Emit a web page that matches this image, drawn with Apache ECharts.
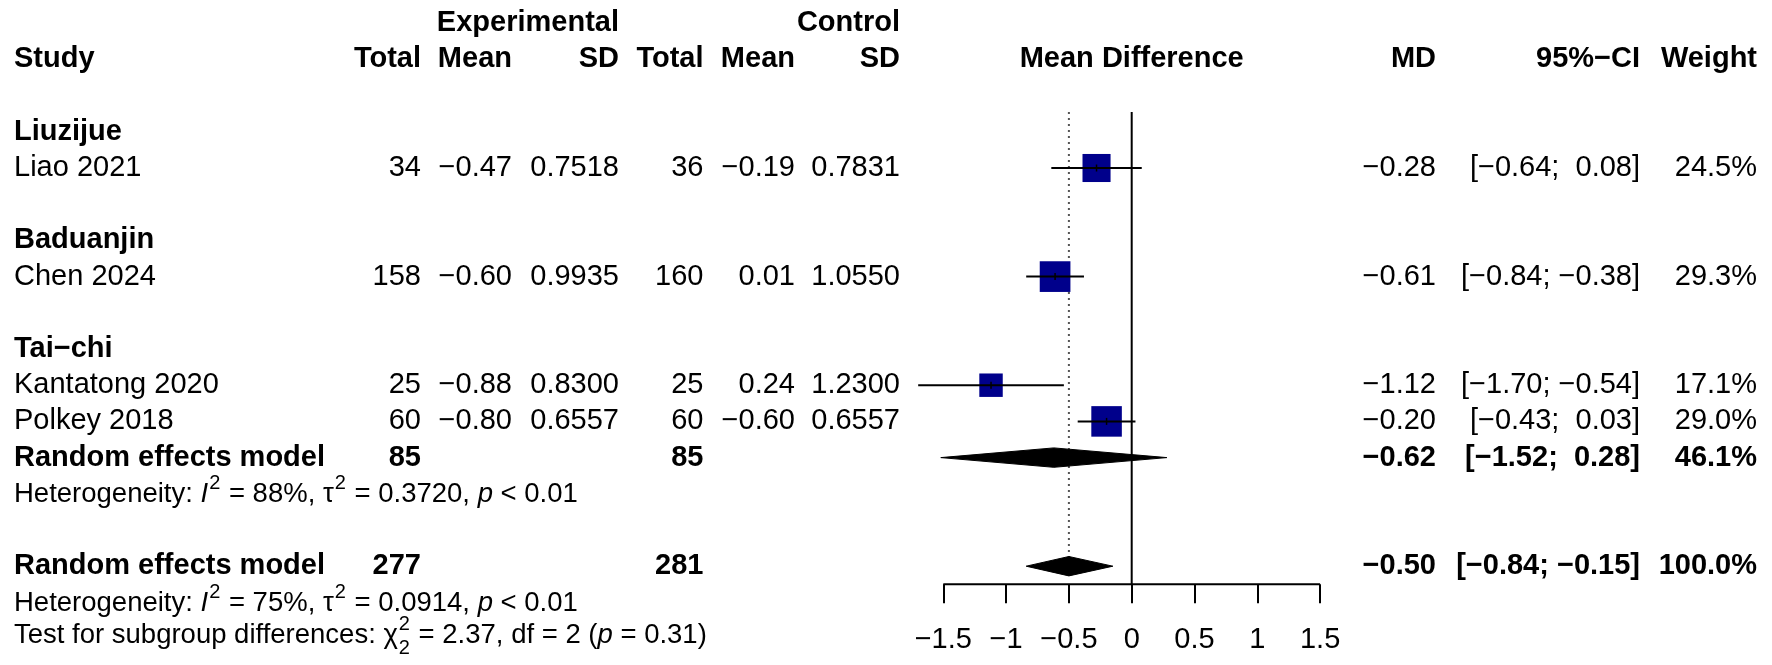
<!DOCTYPE html>
<html><head><meta charset="utf-8">
<script src="https://cdn.jsdelivr.net/npm/echarts@6/dist/echarts.min.js"></script>
<style>html,body{margin:0;padding:0;background:#fff}#c{width:1772px;height:665px}</style>
</head><body><div id="c"></div>
<script>
// ---------------- DATA ----------------
const subgroups = ['Liuzijue', 'Baduanjin', 'Tai\u2212chi'];
const studies = ['Liao 2021', 'Chen 2024', 'Kantatong 2020', 'Polkey 2018'];
const expTotal = [34, 158, 25, 60];
const expMean = [-0.47, -0.60, -0.88, -0.80];
const expSD = [0.7518, 0.9935, 0.8300, 0.6557];
const ctrlTotal = [36, 160, 25, 60];
const ctrlMean = [-0.19, 0.01, 0.24, -0.60];
const ctrlSD = [0.7831, 1.0550, 1.2300, 0.6557];
const md = [-0.28, -0.61, -1.12, -0.20];
const ciLow = [-0.64, -0.84, -1.70, -0.43];
const ciHigh = [0.08, -0.38, -0.54, 0.03];
const weight = [24.5, 29.3, 17.1, 29.0];

const pooledLabels = ['Random effects model', 'Random effects model'];
const pooledExpTotal = [85, 277];
const pooledCtrlTotal = [85, 281];
const pooledMD = [-0.62, -0.50];
const pooledLow = [-1.52, -0.84];
const pooledHigh = [0.28, -0.15];
const pooledWeight = [46.1, 100.0];
const hetI2 = [88, 75];
const hetTau2 = [0.3720, 0.0914];
const hetP = ['< 0.01', '< 0.01'];
const testChi2 = 2.37, testDf = 2, testP = '0.31';
const xTicks = [-1.5, -1, -0.5, 0, 0.5, 1, 1.5];
const refValue = 0;

// ---------------- LAYOUT ----------------
const FONT = "'Liberation Sans', Arial, Helvetica, sans-serif";
const FS = 29, FS_HET = 27.5, FS_SUP = 20;
const groupRow = [2, 5, 8];
const studyRow = [3, 6, 9, 10];
const pooledRow = [11, 14];
const hetRow = [12, 15];
const testRow = 16;
const ROW_MIN = -1, ROW_MAX = 14.5;
const COL = { study: 14, eT: 421, eM: 512, eS: 619, cT: 703.5, cM: 795, cS: 900, md: 1436, ci: 1640, w: 1757 };

const minus = s => String(s).replace(/-/g, '\u2212');
const f2 = v => minus(v.toFixed(2));
const ciText = (lo, hi) => '[' + (lo >= 0 ? ' ' : '') + f2(lo) + '; ' + (hi >= 0 ? ' ' : '') + f2(hi) + ']';

const ctx = document.createElement('canvas').getContext('2d');
function tw(t, size, weight, style) {
  ctx.font = (style || 'normal') + ' ' + (weight || 'normal') + ' ' + size + 'px ' + FONT;
  return ctx.measureText(t).width;
}

// ---------------- TABLE CELLS ----------------
const cells = [];
function cell(row, x, text, align, bold, extra) {
  cells.push(Object.assign({ row, x, text, align, bold, size: FS }, extra || {}));
}
cell(-1, COL.eS, 'Experimental', 'right', true);
cell(-1, COL.cS, 'Control', 'right', true);
cell(0, COL.study, 'Study', 'left', true);
cell(0, COL.eT, 'Total', 'right', true);
cell(0, COL.eM, 'Mean', 'right', true);
cell(0, COL.eS, 'SD', 'right', true);
cell(0, COL.cT, 'Total', 'right', true);
cell(0, COL.cM, 'Mean', 'right', true);
cell(0, COL.cS, 'SD', 'right', true);
cell(0, 0, 'Mean Difference', 'center', true, { xVal: refValue });
cell(0, COL.md, 'MD', 'right', true);
cell(0, COL.ci, '95%\u2212CI', 'right', true);
cell(0, COL.w, 'Weight', 'right', true);
subgroups.forEach((g, i) => cell(groupRow[i], COL.study, g, 'left', true));
studies.forEach((s, i) => {
  const r = studyRow[i];
  cell(r, COL.study, s, 'left', false);
  cell(r, COL.eT, String(expTotal[i]), 'right', false);
  cell(r, COL.eM, f2(expMean[i]), 'right', false);
  cell(r, COL.eS, expSD[i].toFixed(4), 'right', false);
  cell(r, COL.cT, String(ctrlTotal[i]), 'right', false);
  cell(r, COL.cM, f2(ctrlMean[i]), 'right', false);
  cell(r, COL.cS, ctrlSD[i].toFixed(4), 'right', false);
  cell(r, COL.md, f2(md[i]), 'right', false);
  cell(r, COL.ci, ciText(ciLow[i], ciHigh[i]), 'right', false);
  cell(r, COL.w, weight[i].toFixed(1) + '%', 'right', false);
});
pooledLabels.forEach((l, i) => {
  const r = pooledRow[i];
  cell(r, COL.study, l, 'left', true);
  cell(r, COL.eT, String(pooledExpTotal[i]), 'right', true);
  cell(r, COL.cT, String(pooledCtrlTotal[i]), 'right', true);
  cell(r, COL.md, f2(pooledMD[i]), 'right', true);
  cell(r, COL.ci, ciText(pooledLow[i], pooledHigh[i]), 'right', true);
  cell(r, COL.w, pooledWeight[i].toFixed(1) + '%', 'right', true);
});
hetRow.forEach((r, i) => {
  cell(r, COL.study, '', 'left', false, { dy: 1, segs: [
    ['Heterogeneity: ', 'n'], ['I', 'i'], ['2', 'sup'], [' = ' + hetI2[i] + '%, \u03c4', 'n'], ['2', 'sup'],
    [' = ' + hetTau2[i].toFixed(4) + ', ', 'n'], ['p', 'i'], [' ' + hetP[i], 'n']
  ] });
});
cell(testRow, COL.study, '', 'left', false, { dy: -3, segs: [
  ['Test for subgroup differences: \u03c7', 'n'], ['2', 'sup'], [String(testDf), 'sub'],
  [' = ' + testChi2.toFixed(2) + ', df = ' + testDf + ' (', 'n'], ['p', 'i'], [' = ' + testP + ')', 'n']
] });

function renderCell(params, api) {
  const c = cells[api.value(2)];
  const y = api.coord([0, c.row])[1] + (c.dy || 0);
  const x = c.xVal !== undefined ? api.coord([c.xVal, c.row])[0] : c.x;
  if (c.segs) {
    const children = [];
    let cx = x, lastSupX = x, lastSupW = 0;
    c.segs.forEach(([t, k]) => {
      let size = FS_HET, style = 'normal', dy = 0, px = cx;
      if (k === 'i') style = 'italic';
      if (k === 'sup') { size = FS_SUP; dy = -11; px = cx + 1; lastSupX = px; }
      if (k === 'sub') { size = FS_SUP; dy = 13; px = lastSupX; }
      const w = tw(t, size, 'normal', style);
      children.push({ type: 'text', x: px, y: y + dy, style: {
        text: t, fill: '#000', fontSize: size, fontFamily: FONT, fontStyle: style,
        align: 'left', verticalAlign: 'middle', textAlign: 'left', textVerticalAlign: 'middle' } });
      if (k === 'sup') { lastSupW = w; cx = px + w + 1; }
      else if (k === 'sub') { cx = lastSupX + Math.max(w, lastSupW) + 1; }
      else cx += w;
    });
    return { type: 'group', children };
  }
  return { type: 'text', x, y, style: {
    text: c.text, fill: '#000', fontSize: c.size, fontFamily: FONT, fontWeight: c.bold ? 'bold' : 'normal',
    align: c.align, verticalAlign: 'middle', textAlign: c.align, textVerticalAlign: 'middle' } };
}

// ---------------- FOREST MARKS ----------------
function renderCI(params, api) {
  const p1 = api.coord([api.value(0), api.value(3)]);
  const p2 = api.coord([api.value(1), api.value(3)]);
  const pm = api.coord([api.value(2), api.value(3)]);
  return { type: 'group', children: [
    { type: 'line', shape: { x1: p1[0], y1: p1[1], x2: p2[0], y2: p2[1] }, style: { stroke: '#000', lineWidth: 2 } },
    { type: 'line', shape: { x1: pm[0], y1: pm[1] - 3.5, x2: pm[0], y2: pm[1] + 3.5 }, style: { stroke: '#000', lineWidth: 1.5 } }
  ] };
}
function renderDiamond(params, api) {
  const r = api.value(3);
  const lo = api.coord([api.value(0), r]), mid = api.coord([api.value(1), r]), hi = api.coord([api.value(2), r]);
  const h = 9.7;
  return { type: 'polygon', shape: { points: [[lo[0], lo[1]], [mid[0], mid[1] - h], [hi[0], hi[1]], [mid[0], mid[1] + h]] },
    style: { fill: '#000', stroke: '#000', lineWidth: 1 } };
}
function segRenderer(styleObj) {
  return function (params, api) {
    const a = api.coord([api.value(0), api.value(1)]);
    const b = api.coord([api.value(2), api.value(3)]);
    return { type: 'line', shape: { x1: a[0], y1: a[1], x2: b[0], y2: b[1] }, style: styleObj };
  };
}

const option = {
  animation: false,
  backgroundColor: '#fff',
  grid: { left: 880.5, width: 502.4, top: 23.2, height: 561.1, containLabel: false },
  xAxis: {
    type: 'value', min: -2, max: 2, interval: 0.5, position: 'bottom',
    axisLine: { show: false, onZero: false },
    splitLine: { show: false },
    axisTick: { show: true, customValues: xTicks, length: 19, lineStyle: { color: '#000', width: 2 } },
    axisLabel: { customValues: xTicks, color: '#000', fontSize: FS, fontFamily: FONT, margin: 41,
      formatter: v => minus(v) }
  },
  yAxis: { type: 'value', inverse: true, min: ROW_MIN, max: ROW_MAX, show: false },
  series: [
    { // axis line from first to last tick
      type: 'custom', clip: false, z: 3, silent: true,
      renderItem: segRenderer({ stroke: '#000', lineWidth: 2 }),
      encode: { x: [0, 2], y: [1, 3] },
      data: [[xTicks[0], ROW_MAX, xTicks[xTicks.length - 1], ROW_MAX]]
    },
    { // no-effect line
      type: 'custom', clip: false, z: 1, silent: true,
      renderItem: segRenderer({ stroke: '#000', lineWidth: 2 }),
      encode: { x: [0, 2], y: [1, 3] },
      data: [[refValue, 1.45, refValue, ROW_MAX]]
    },
    { // overall random effects line (dotted)
      type: 'custom', clip: false, z: 1, silent: true,
      renderItem: segRenderer({ stroke: '#555', lineWidth: 2, lineDash: [2, 4] }),
      encode: { x: [0, 2], y: [1, 3] },
      data: [[pooledMD[1], 1.45, pooledMD[1], 14.3]]
    },
    { // study squares
      type: 'scatter', z: 2, silent: true,
      symbol: 'rect',
      symbolSize: v => 5.67 * Math.sqrt(v[2]),
      itemStyle: { color: '#00008B', opacity: 1 },
      data: md.map((m, i) => [m, studyRow[i], weight[i]])
    },
    { // confidence intervals
      type: 'custom', clip: false, z: 4, silent: true,
      renderItem: renderCI,
      encode: { x: [0, 1], y: 3 },
      data: md.map((m, i) => [ciLow[i], ciHigh[i], m, studyRow[i]])
    },
    { // pooled diamonds
      type: 'custom', clip: false, z: 5, silent: true,
      renderItem: renderDiamond,
      encode: { x: [0, 2], y: 3 },
      data: pooledMD.map((m, i) => [pooledLow[i], m, pooledHigh[i], pooledRow[i]])
    },
    { // table text
      type: 'custom', clip: false, z: 6, silent: true,
      renderItem: renderCell,
      encode: { x: 0, y: 1 },
      data: cells.map((c, i) => [0, c.row, i])
    }
  ]
};
const chart = echarts.init(document.getElementById('c'));
chart.setOption(option);
</script>
</body></html>
